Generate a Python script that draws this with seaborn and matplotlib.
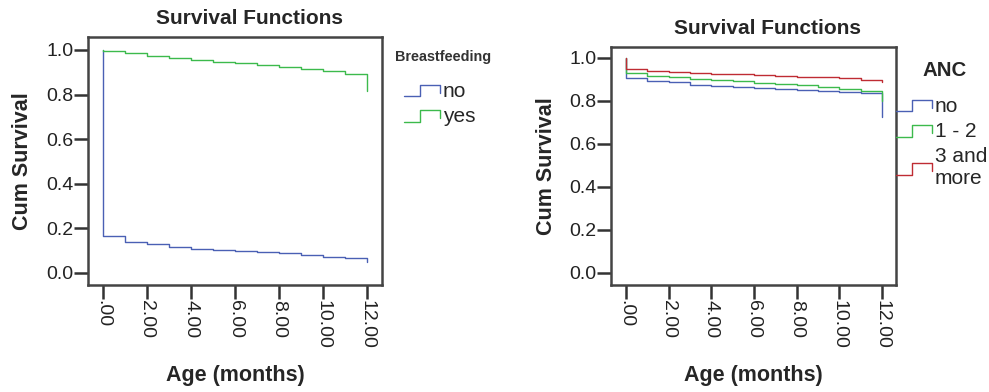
import numpy as np
import pandas as pd
import matplotlib
matplotlib.use("Agg")
import matplotlib.pyplot as plt
import seaborn as sns
from matplotlib.lines import Line2D
from matplotlib.legend_handler import HandlerBase

# =========================
# data (Kaplan-Meier step values, month 0..12)
# =========================
age = [0, 0, 1, 2, 3, 4, 5, 6, 7, 8, 9, 10, 11, 12]

bf_no = [1.0, 0.166, 0.139, 0.129, 0.115, 0.109, 0.105, 0.097, 0.093, 0.088, 0.081, 0.073, 0.066, 0.051]
bf_yes = [1.0, 0.997, 0.985, 0.975, 0.963, 0.955, 0.948, 0.940, 0.934, 0.925, 0.915, 0.904, 0.891, 0.816]

anc_no = [1.0, 0.905, 0.895, 0.887, 0.874, 0.870, 0.865, 0.859, 0.855, 0.851, 0.848, 0.843, 0.836, 0.727]
anc_12 = [1.0, 0.930, 0.918, 0.912, 0.902, 0.898, 0.893, 0.885, 0.879, 0.873, 0.865, 0.857, 0.848, 0.800]
anc_3 = [1.0, 0.947, 0.940, 0.933, 0.929, 0.927, 0.924, 0.919, 0.916, 0.913, 0.910, 0.907, 0.898, 0.887]

bf_labels = ["no", "yes"]
anc_labels = ["no", "1 - 2", "3 and\nmore"]

x_ticks = [0, 2, 4, 6, 8, 10, 12]
x_ticklabels = [".00", "2.00", "4.00", "6.00", "8.00", "10.00", "12.00"]
y_ticks = [0.0, 0.2, 0.4, 0.6, 0.8, 1.0]

BLUE = "#4a60b4"
GREEN = "#3cba4c"
RED = "#bf2c33"


def long_df(groups, labels):
    rows = []
    for vals, lab in zip(groups, labels):
        for a, v in zip(age, vals):
            rows.append({"age": a, "surv": v, "grp": lab})
    return pd.DataFrame(rows)


class StepHandler(HandlerBase):
    # SPSS style step glyph in legend
    def create_artists(self, legend, orig_handle, xdescent, ydescent,
                       width, height, fontsize, trans):
        x0 = -xdescent
        x1 = x0 + width
        lo = -ydescent + 0.05 * height
        hi = -ydescent + 0.85 * height
        xs = [x0, x0 + 0.45 * width, x0 + 0.45 * width, x1, x1]
        ys = [lo, lo, hi, hi, lo + 0.25 * height]
        ln = Line2D(xs, ys, color=orig_handle.get_color(), lw=1.0)
        ln.set_transform(trans)
        return [ln]


sns.set_style("white")
plt.rcParams["font.family"] = ["Liberation Sans", "DejaVu Sans"]

fig = plt.figure(figsize=(9.89, 3.92), dpi=100)
ax1 = fig.add_axes([88 / 989, 1 - 285 / 392, 294 / 989, 248 / 392])
ax2 = fig.add_axes([611 / 989, 1 - 285 / 392, 285 / 989, 238 / 392])

df1 = long_df([bf_no, bf_yes], bf_labels)
df2 = long_df([anc_no, anc_12, anc_3], anc_labels)

sns.lineplot(data=df1, x="age", y="surv", hue="grp", palette=[BLUE, GREEN],
             estimator=None, sort=False, drawstyle="steps-post", lw=1.0, ax=ax1)
sns.lineplot(data=df2, x="age", y="surv", hue="grp", palette=[BLUE, GREEN, RED],
             estimator=None, sort=False, drawstyle="steps-post", lw=1.0, ax=ax2)

limits = [(ax1, (-0.054, 1.058), (-0.68, 12.68)), (ax2, (-0.056, 1.051), (-0.70, 12.66))]
for ax, ylim, xlim in limits:
    ax.set_ylim(*ylim)
    ax.set_xlim(*xlim)
    ax.set_xticks(x_ticks)
    ax.set_xticklabels(x_ticklabels, rotation=270, fontsize=14, color="#222222")
    ax.set_yticks(y_ticks)
    ax.set_yticklabels([f"{v:.1f}" for v in y_ticks], fontsize=14, color="#222222")
    ax.tick_params(axis="both", direction="out", length=10, width=1.8, color="#333333",
                   pad=0.5, bottom=True, left=True)
    for s in ax.spines.values():
        s.set_color("#444444")
        s.set_linewidth(1.8)
    ax.set_title("Survival Functions", fontsize=15, fontweight="bold", x=0.55, pad=9)
    ax.set_xlabel("Age (months)", fontsize=15.5, fontweight="bold")
    ax.set_ylabel("Cum Survival", fontsize=15.5, fontweight="bold")

ax1.xaxis.set_label_coords(0.5, -80 / 248)
ax2.xaxis.set_label_coords(0.5, -80 / 238)
ax1.yaxis.set_label_coords(-55 / 294, 0.5)
ax2.yaxis.set_label_coords(-54 / 285, 0.5)

# legends (titles placed as separate text, SPSS leaves a big gap)
h1, l1 = ax1.get_legend_handles_labels()
ax1.legend(h1, l1, handler_map={Line2D: StepHandler()}, frameon=False,
           loc="upper left", bbox_to_anchor=(404 / 989, 1 - 82 / 392),
           bbox_transform=fig.transFigure, fontsize=15,
           handlelength=1.75, handletextpad=0.1, labelspacing=0.3, borderpad=0,
           borderaxespad=0)
fig.text(395 / 989, 1 - 57 / 392, "Breastfeeding", fontsize=10.4, fontweight="bold",
         color="#333333", ha="left", va="center")

h2, l2 = ax2.get_legend_handles_labels()
ax2.legend(h2, l2, handler_map={Line2D: StepHandler()}, frameon=False,
           loc="upper left", bbox_to_anchor=(896 / 989, 1 - 97 / 392),
           bbox_transform=fig.transFigure, fontsize=15,
           handlelength=1.75, handletextpad=0.1, labelspacing=0.3, borderpad=0,
           borderaxespad=0)
fig.text(945 / 989, 1 - 70 / 392, "ANC", fontsize=14.7, fontweight="bold",
         ha="center", va="center")

fig.savefig("out.png", dpi=100)
